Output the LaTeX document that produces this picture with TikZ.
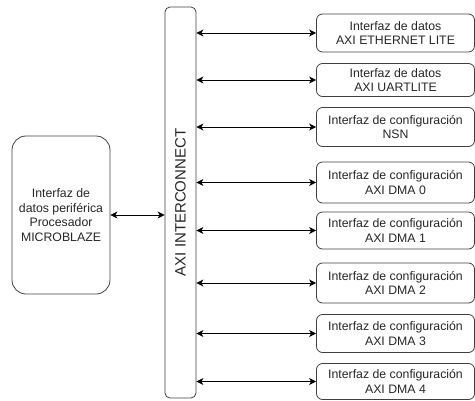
\documentclass[tikz,border=0pt]{standalone}
\usepackage{fontspec}
\setmainfont{Liberation Sans}
\usetikzlibrary{arrows.meta}
\begin{document}
\begin{tikzpicture}[x=1pt,y=-1pt,
  box/.style={draw=black!75, line width=0.8pt, rounded corners=6pt, align=center,
    font=\fontsize{12.3}{14.5}\selectfont, inner sep=0pt, text=black!85},
  rbox/.style={box, minimum width=158pt},
  link/.style={line width=0.8pt, {Stealth[length=7pt,width=7pt,inset=2pt]}-{Stealth[length=7pt,width=7pt,inset=2pt]}}]
\useasboundingbox (0,0) rectangle (475,400);

\node[box, rotate=90, minimum width=391pt, minimum height=31pt, rounded corners=5pt,
  font=\fontsize{15}{17}\selectfont] (ic) at (180.5,202.5) {AXI INTERCONNECT};

\node[box, minimum width=98pt, minimum height=158pt, rounded corners=14pt] (lb) at (61,215)
  {Interfaz de\\datos periférica\\Procesador\\MICROBLAZE};

\node[rbox, minimum height=38pt] (b1) at (395.5,33) {Interfaz de datos\\AXI ETHERNET LITE};
\node[rbox, minimum height=33pt] (b2) at (395.5,80) {Interfaz de datos\\AXI UARTLITE};
\node[rbox, minimum height=39pt] (b3) at (395.5,127) {Interfaz de configuración\\NSN};
\node[rbox, minimum height=41pt] (b4) at (395.5,182.5) {Interfaz de configuración\\AXI DMA 0};
\node[rbox, minimum height=37pt] (b5) at (395.5,230.5) {Interfaz de configuración\\AXI DMA 1};
\node[rbox, minimum height=40pt] (b6) at (395.5,283) {Interfaz de configuración\\AXI DMA 2};
\node[rbox, minimum height=38pt] (b7) at (395.5,333.5) {Interfaz de configuración\\AXI DMA 3};
\node[rbox, minimum height=36pt] (b8) at (395.5,381.5) {Interfaz de configuración\\AXI DMA 4};

\draw[link] (lb.east) -- (ic.north |- lb.east);
\foreach \b in {b1,b2,b3,b4,b5,b6,b7,b8}
  \draw[link] (ic.south |- \b.west) -- (\b.west);
\end{tikzpicture}
\end{document}
